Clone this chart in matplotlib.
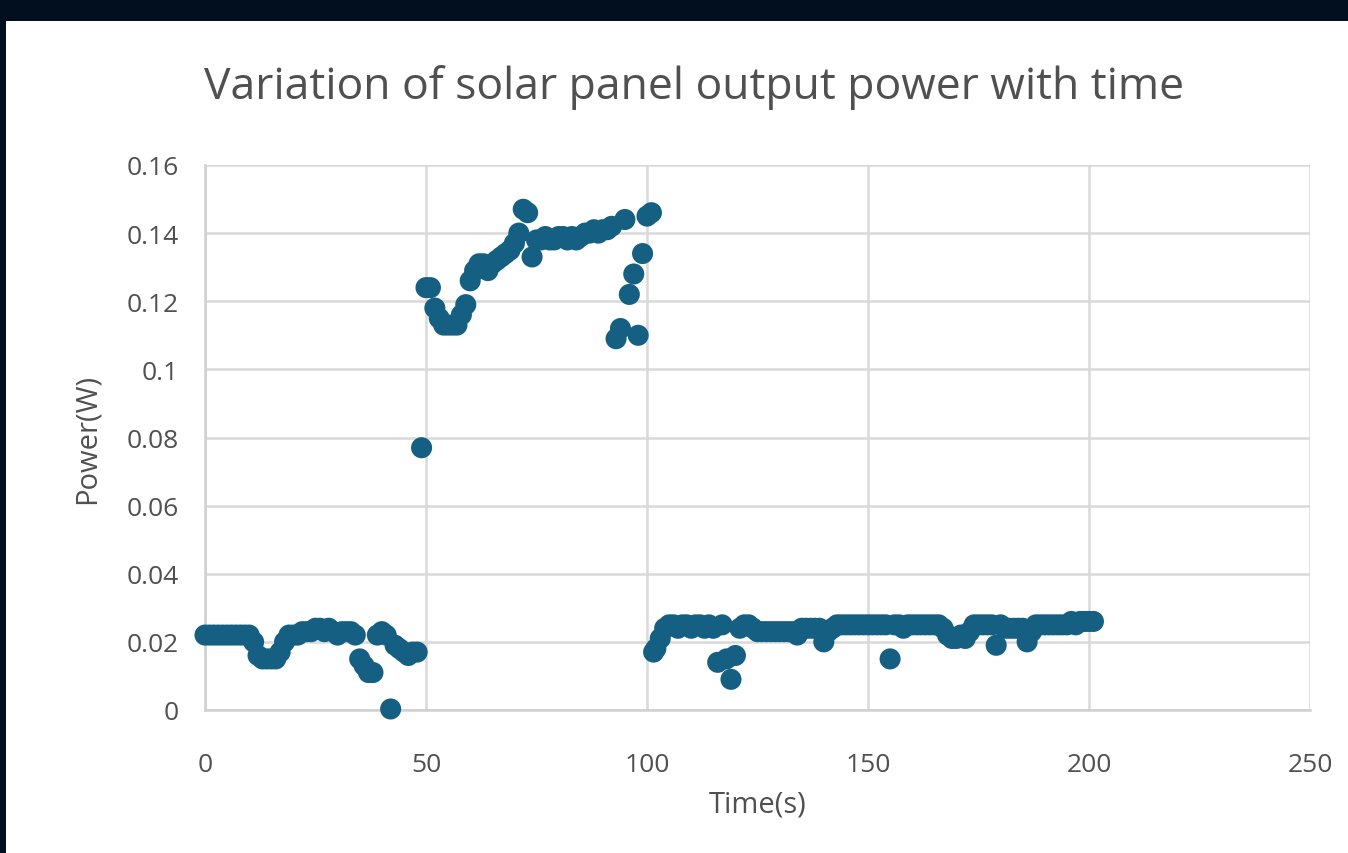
import matplotlib
matplotlib.use("Agg")
import matplotlib.pyplot as plt
from matplotlib.patches import Rectangle

plt.rcParams['font.family'] = ['Open Sans', 'DejaVu Sans']

time_a = [0, 1, 2, 3, 4, 5, 6, 7, 8, 9, 10, 11, 12, 13, 14, 15, 16, 17, 18, 19,
          20, 21, 22, 23, 24, 25, 26, 27, 28, 29, 30, 31, 32, 33, 34, 35, 36, 37, 38,
          39, 40, 41, 42, 43, 44, 45, 46, 47, 48, 49]
power_a = [0.022, 0.022, 0.022, 0.022, 0.022, 0.022, 0.022, 0.022, 0.022, 0.022, 0.022,
           0.020, 0.016, 0.015, 0.015, 0.015, 0.015, 0.017, 0.020, 0.022,
           0.022, 0.022, 0.023, 0.023, 0.023, 0.024, 0.024, 0.023, 0.024, 0.023,
           0.022, 0.023, 0.023, 0.023, 0.022, 0.015, 0.013, 0.011, 0.011,
           0.022, 0.023, 0.022, 0.0003, 0.019, 0.018, 0.017, 0.016, 0.017, 0.017, 0.077]

time_b = [50, 51, 52, 53, 54, 55, 56, 57, 58, 59, 60, 61, 62, 63, 64, 65, 66, 67, 68, 69,
          70, 71, 72, 73, 74, 75, 76, 77, 78, 79, 80, 81, 82, 83, 84, 85, 86, 87, 88, 89,
          90, 91, 92, 93, 94, 95, 96, 97, 98, 99, 100, 101]
power_b = [0.124, 0.124, 0.118, 0.115, 0.113, 0.113, 0.113, 0.113, 0.116, 0.119,
           0.126, 0.129, 0.131, 0.131, 0.129, 0.131, 0.132, 0.133, 0.134, 0.135,
           0.137, 0.140, 0.147, 0.146, 0.133, 0.138, 0.138, 0.139, 0.138, 0.138,
           0.139, 0.139, 0.138, 0.139, 0.138, 0.139, 0.140, 0.140, 0.141, 0.140,
           0.141, 0.141, 0.142, 0.109, 0.112, 0.144, 0.122, 0.128, 0.110, 0.134,
           0.145, 0.146]

time_c = [101.5, 102, 103, 104, 105, 106, 107, 108, 109, 110, 111, 112, 113, 114, 115,
          116, 117, 118, 119, 120, 121, 122, 123, 124, 125, 126, 127, 128, 129, 130,
          131, 132, 133, 134, 135, 136, 137, 138, 139, 140, 141, 142, 143, 144, 145,
          146, 147, 148, 149, 150, 151, 152, 153, 154, 155, 156, 157, 158, 159, 160,
          161, 162, 163, 164, 165, 166, 167, 168, 169, 170, 171, 172, 173, 174, 175,
          176, 177, 178, 179, 180, 181, 182, 183, 184, 185, 186, 187, 188, 189, 190,
          191, 192, 193, 194, 195, 196, 197, 198, 199, 200, 201]
power_c = [0.017, 0.018, 0.021, 0.024, 0.025, 0.025, 0.024, 0.025, 0.025, 0.024,
           0.025, 0.025, 0.024, 0.025, 0.024,
           0.014, 0.025, 0.015, 0.009, 0.016, 0.024, 0.025, 0.025, 0.024, 0.023,
           0.023, 0.023, 0.023, 0.023, 0.023,
           0.023, 0.023, 0.023, 0.022, 0.024, 0.024, 0.024, 0.024, 0.024, 0.020,
           0.023, 0.024, 0.025, 0.025, 0.025,
           0.025, 0.025, 0.025, 0.025, 0.025, 0.025, 0.025, 0.025, 0.025, 0.015,
           0.025, 0.025, 0.024, 0.025, 0.025,
           0.025, 0.025, 0.025, 0.025, 0.025, 0.025, 0.024, 0.022, 0.021, 0.021,
           0.022, 0.021, 0.023, 0.025, 0.025,
           0.025, 0.025, 0.025, 0.019, 0.025, 0.024, 0.024, 0.024, 0.024, 0.024,
           0.020, 0.023, 0.025, 0.025, 0.025,
           0.025, 0.025, 0.025, 0.025, 0.025, 0.026, 0.025, 0.026, 0.026, 0.026, 0.026]

times = time_a + time_b + time_c
powers = power_a + power_b + power_c

x_ticks = [0, 50, 100, 150, 200, 250]
y_ticks = [0, 0.02, 0.04, 0.06, 0.08, 0.1, 0.12, 0.14, 0.16]
y_labels = ['0', '0.02', '0.04', '0.06', '0.08', '0.1', '0.12', '0.14', '0.16']

W, H = 1348, 854
text_col = '#505050'
fig = plt.figure(figsize=(W / 100, H / 100), dpi=100, facecolor='white')

# dark screen border around the chart
fig.patches.append(Rectangle((0, 1 - 22 / H), 1, 22 / H, transform=fig.transFigure,
                             facecolor='#020f1f', edgecolor='none', zorder=0))
fig.patches.append(Rectangle((0, 0), 6 / W, 1, transform=fig.transFigure,
                             facecolor='#020f1f', edgecolor='none', zorder=0))

ax = fig.add_axes([205 / W, 1 - 711 / H, (1310 - 205) / W, (711 - 166) / H])
ax.scatter(times, powers, s=230, color='#156082', edgecolors='none', zorder=3,
           clip_on=False)

ax.set_xlim(0, 250)
ax.set_ylim(0, 0.16)
ax.set_xticks(x_ticks)
ax.set_xticklabels([str(v) for v in x_ticks])
ax.set_yticks(y_ticks)
ax.set_yticklabels(y_labels)
ax.grid(True, color='#d9d9d9', linewidth=1.8, zorder=0)
ax.set_axisbelow(True)
for side in ['top', 'right']:
    ax.spines[side].set_visible(False)
for side in ['left', 'bottom']:
    ax.spines[side].set_color('#d0d0d0')
    ax.spines[side].set_linewidth(1.8)
ax.tick_params(length=0, labelsize=19, labelcolor=text_col)
ax.tick_params(axis='y', pad=19)
ax.tick_params(axis='x', pad=30)

ax.set_xlabel('Time(s)', fontsize=21, color=text_col, labelpad=9)
ax.set_ylabel('Power(W)', fontsize=21, color=text_col, labelpad=18)

fig.text(694 / W, 1 - 88 / H, 'Variation of solar panel output power with time',
         ha='center', va='center', fontsize=32, color=text_col)

fig.savefig('out.png', dpi=100, facecolor='white')
